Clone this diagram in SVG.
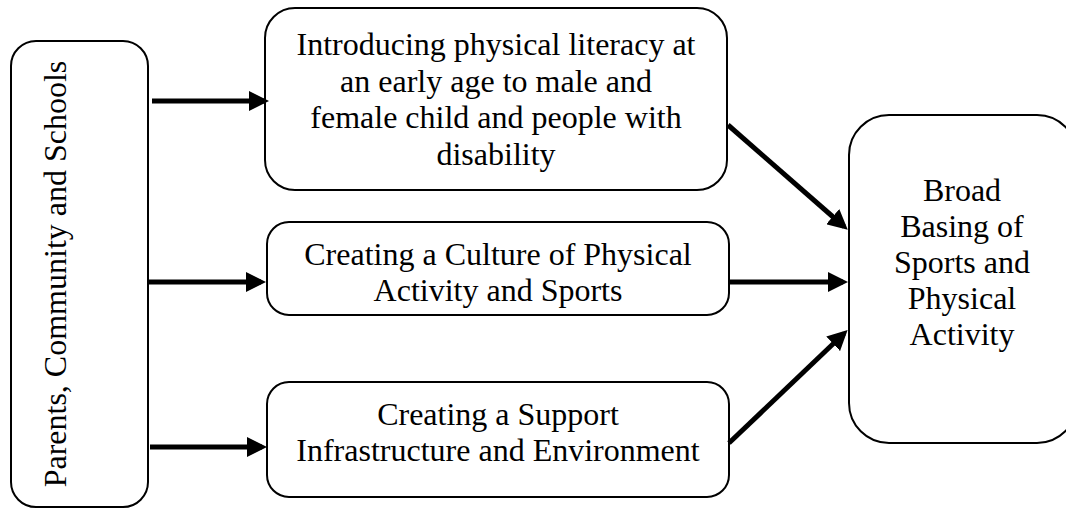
<svg xmlns="http://www.w3.org/2000/svg" width="1066" height="508" viewBox="0 0 1066 508">
<style>
.box{fill:#fff;stroke:#000;stroke-width:2}
text{font-family:'Times New Roman','Liberation Serif','DejaVu Serif',serif;font-size:32px;fill:#000;text-anchor:middle}
.c{stroke:#000;stroke-width:5;fill:none}
</style>
<defs>
<marker id="ah" markerWidth="4" markerHeight="4" refX="3" refY="2" orient="auto" markerUnits="strokeWidth">
<path d="M0,0 L4,2 L0,4 z" fill="#000"/>
</marker>
</defs>
<rect width="1066" height="508" fill="#fff"/>
<g id="left">
<rect class="box" x="11" y="41" width="137" height="466" rx="25"/>
<text transform="translate(66,274) rotate(-90)">Parents, Community and Schools</text>
</g>
<g id="top">
<rect class="box" x="265" y="8" width="462" height="182" rx="30"/>
<text x="496" y="55">Introducing physical literacy at</text>
<text x="496" y="92">an early age to male and</text>
<text x="496" y="128">female child and people with</text>
<text x="496" y="165">disability</text>
</g>
<g id="middle">
<rect class="box" x="267" y="222" width="462" height="93" rx="22"/>
<text x="498" y="265">Creating a Culture of Physical</text>
<text x="498" y="301">Activity and Sports</text>
</g>
<g id="bottom">
<rect class="box" x="267" y="382" width="462" height="115" rx="22"/>
<text x="498" y="425">Creating a Support</text>
<text x="498" y="461">Infrastructure and Environment</text>
</g>
<g id="right">
<rect class="box" x="849" y="115" width="228" height="328" rx="40"/>
<text x="962" y="201">Broad</text>
<text x="962" y="237">Basing of</text>
<text x="962" y="273">Sports and</text>
<text x="962" y="309">Physical</text>
<text x="962" y="345">Activity</text>
</g>
<g id="connectors">
<line class="c" x1="152" y1="101" x2="264" y2="101" marker-end="url(#ah)"/>
<line class="c" x1="149" y1="282" x2="261" y2="282" marker-end="url(#ah)"/>
<line class="c" x1="150" y1="447" x2="262" y2="447" marker-end="url(#ah)"/>
<line class="c" x1="729" y1="282" x2="843" y2="282" marker-end="url(#ah)"/>
<line class="c" x1="728" y1="125" x2="844" y2="226.5" marker-end="url(#ah)"/>
<line class="c" x1="729" y1="443" x2="844" y2="333.5" marker-end="url(#ah)"/>
</g>
</svg>
